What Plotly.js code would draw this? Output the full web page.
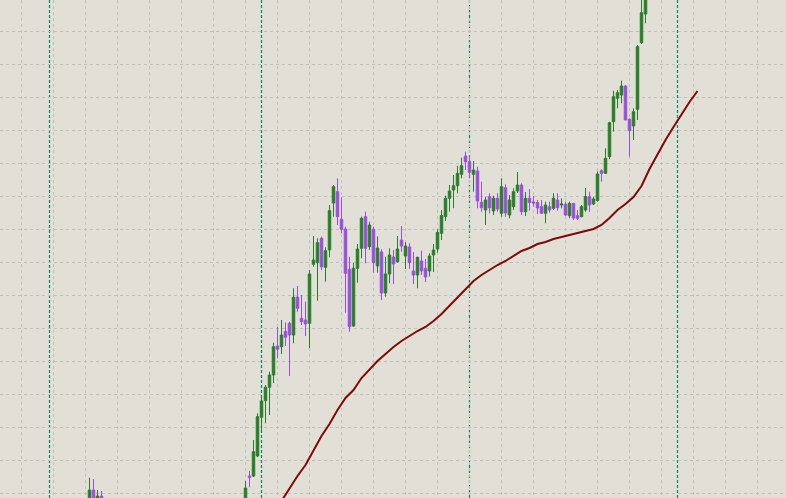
<!DOCTYPE html>
<html>
<head>
<meta charset="utf-8">
<script src="https://cdn.plot.ly/plotly-3.0.1.min.js"></script>
<style>
  html, body { margin: 0; padding: 0; background: #e1dfd6; }
  #chart { width: 786px; height: 498px; }
</style>
</head>
<body>
<div id="chart"></div>
<script>
// ---- data (bar index on x, price on y) ----
const barIndex = [22, 23, 24, 25,
  61, 62, 63, 64, 65, 66, 67, 68, 69, 70,
  71, 72, 73, 74, 75, 76, 77, 78, 79, 80,
  81, 82, 83, 84, 85, 86, 87, 88, 89, 90,
  91, 92, 93, 94, 95, 96, 97, 98, 99, 100,
  101, 102, 103, 104, 105, 106, 107, 108, 109, 110,
  111, 112, 113, 114, 115, 116, 117, 118, 119, 120,
  121, 122, 123, 124, 125, 126, 127, 128, 129, 130,
  131, 132, 133, 134, 135, 136, 137, 138, 139, 140,
  141, 142, 143, 144, 145, 146, 147, 148, 149, 150,
  151, 152, 153, 154, 155, 156, 157, 158, 159, 160,
  161];

const openPrice = [993, 1008, 993, 1002,
  998, 1022, 1022, 1042, 1080.7, 1097.3, 1110.7, 1123, 1152, 1151.3,
  1166.5, 1174.7, 1163, 1201, 1179.7, 1178, 1174.7, 1233.7, 1235.3, 1259.7,
  1230.7, 1248, 1295, 1306.3, 1278.7, 1269, 1228.7, 1172, 1229.7, 1249.7,
  1281.3, 1251.3, 1268.7, 1232, 1246, 1205, 1224, 1241, 1236.3, 1258,
  1242, 1251, 1227, 1223, 1237, 1229.7, 1227, 1243, 1249, 1264.7,
  1281.3, 1299.7, 1308, 1312.3, 1323.7, 1342, 1336.3, 1323.7, 1327, 1295.7,
  1288, 1301.3, 1287, 1299.7, 1284.7, 1310.3, 1283, 1291.3, 1307, 1313,
  1286.3, 1299.7, 1296, 1295.5, 1291.3, 1284.7, 1291.3, 1289.7, 1298, 1293,
  1293.7, 1282.3, 1294.5, 1282.3, 1281.3, 1288, 1301.3, 1294, 1297.5, 1327.3,
  1324.7, 1341.3, 1376.3, 1399.7, 1403, 1412, 1378.7, 1372, 1388.7, 1455.3,
  1484];

const highPrice = [1020.3, 1019, 1008, 1007,
  1017, 1027, 1058, 1084.7, 1101.3, 1113, 1126.3, 1155.3, 1171, 1178,
  1175.5, 1176.3, 1209.7, 1212, 1203, 1196.3, 1228, 1262, 1259.7, 1261.3,
  1250.7, 1293, 1313, 1319.7, 1300.7, 1271.3, 1241.3, 1235.3, 1254, 1281.3,
  1286.3, 1276.3, 1271.3, 1261.6, 1248.7, 1241.3, 1249.7, 1248, 1262, 1272,
  1256, 1255, 1246, 1241.3, 1247.3, 1239, 1244.7, 1254, 1268.7, 1288,
  1302.3, 1313, 1323, 1332.3, 1340.3, 1346.3, 1343, 1337, 1331.3, 1316.3,
  1301.3, 1304.7, 1302.3, 1304.7, 1319.7, 1313.7, 1303, 1309.7, 1326, 1314.7,
  1306, 1309, 1302, 1298, 1298, 1296.3, 1296.3, 1304.7, 1304.7, 1299.7,
  1296.3, 1296.3, 1295.3, 1288, 1293, 1310, 1306.3, 1301.3, 1326.5, 1328.7,
  1349.7, 1376.3, 1407.3, 1408, 1417.3, 1413, 1379.7, 1389.7, 1453, 1500,
  1508];

const lowPrice = [990, 993, 990, 992,
  995, 1010.7, 1021, 1041, 1068, 1074.7, 1083, 1115, 1139.7, 1144,
  1152, 1122, 1154.7, 1186.3, 1173, 1162, 1150, 1231.3, 1197.3, 1228,
  1216.3, 1240.7, 1281.3, 1273, 1264.7, 1185.3, 1166.3, 1171.3, 1215.3, 1239.7,
  1234.7, 1248, 1225.3, 1225.3, 1198, 1201.3, 1214.7, 1214, 1235.3, 1246.3,
  1229, 1229, 1214, 1209.7, 1223, 1216, 1221.5, 1226, 1245.3, 1258,
  1277, 1286.3, 1289.7, 1304.7, 1319.7, 1328, 1319.7, 1306.3, 1289.7, 1286.3,
  1273, 1284.7, 1283, 1286.3, 1281.3, 1281.3, 1279.7, 1288, 1305, 1283,
  1282, 1287.3, 1291.3, 1284, 1284, 1274.7, 1285.3, 1288, 1287.3, 1289.7,
  1282, 1279.7, 1278, 1278, 1280.7, 1286.3, 1286.3, 1293, 1296.3, 1316.3,
  1324, 1338.7, 1366.3, 1389.7, 1394.7, 1378, 1341.3, 1358, 1378, 1454,
  1474.7];

const closePrice = [1008, 998, 1002, 995,
  1010, 1020.7, 1046.3, 1081.3, 1097, 1110.7, 1123, 1151.3, 1148.7, 1163,
  1160.7, 1163, 1200.7, 1189.7, 1176.3, 1174, 1224, 1238, 1255.3, 1231.3,
  1247.3, 1287.3, 1311.3, 1281.3, 1268.7, 1224.7, 1171.3, 1229.7, 1249, 1279.7,
  1249.7, 1273, 1235.3, 1250, 1205, 1224, 1243, 1234, 1249, 1252,
  1252, 1235.3, 1223, 1240.7, 1227, 1221, 1242, 1248, 1265.5, 1282.5,
  1299.7, 1307, 1312.3, 1324.7, 1332.3, 1336.3, 1325.7, 1328, 1297, 1290.3,
  1298, 1290.3, 1299.7, 1289, 1311.3, 1285, 1298, 1306.3, 1313, 1286.3,
  1299.7, 1295.5, 1295, 1290, 1284.7, 1293, 1288, 1299.7, 1290.3, 1294,
  1283, 1294.7, 1280, 1279.7, 1291.3, 1301.5, 1293, 1299, 1324, 1324.7,
  1339.7, 1375.3, 1401.3, 1405.3, 1412, 1378, 1367.3, 1386.3, 1451.3, 1485.3,
  1503];

// shifted moving average (bar index, value)
const maIndex = [70, 72, 74, 76, 78, 80, 82, 84, 86, 88, 90, 92, 94, 96, 98, 100,
  102, 104, 106, 108, 110, 112, 114, 116, 118, 120, 122, 124, 126, 128, 130,
  132, 134, 136, 138, 140, 142, 144, 146, 148, 150, 152, 154, 156, 158, 160,
  162, 164, 166, 168, 170, 172, 174];
const maValue = [997, 1010, 1022, 1033, 1047, 1062, 1074, 1088, 1100, 1108, 1120, 1129,
  1137, 1144, 1151, 1157, 1162, 1167, 1171, 1177, 1184, 1192, 1201, 1209, 1217,
  1223, 1228, 1233, 1237, 1242, 1247, 1250, 1254, 1256, 1259, 1261, 1263, 1265,
  1267, 1269, 1273, 1280, 1288, 1294, 1301, 1312, 1329, 1344, 1358, 1371, 1384,
  1396, 1407];

// period separators (bar index where a new period starts)
const separators = [12, 65, 117, 169];

// ---- styles ----
const BG = '#e1dfd6';
const GRID = '#c0bfbb';
const SEP = '#008a66';
const UP = '#2b7d2b';
const DOWN = '#9a4fdc';
const MA = '#7d0a0a';

const traces = [
  {
    type: 'candlestick',
    x: barIndex, open: openPrice, high: highPrice, low: lowPrice, close: closePrice,
    increasing: { line: { color: UP, width: 1 }, fillcolor: UP },
    decreasing: { line: { color: DOWN, width: 1 }, fillcolor: DOWN },
    whiskerwidth: 0,
    hoverinfo: 'skip'
  },
  {
    type: 'scatter', mode: 'lines',
    x: maIndex, y: maValue,
    line: { color: MA, width: 2 },
    hoverinfo: 'skip'
  }
];

const layout = {
  width: 786, height: 498,
  margin: { l: 0, r: 0, t: 0, b: 0, pad: 0 },
  paper_bgcolor: BG, plot_bgcolor: BG,
  showlegend: false,
  boxgap: 0.1,
  xaxis: {
    range: [-0.375, 196.125], fixedrange: true,
    showticklabels: false, ticks: '', zeroline: false, showline: false,
    showgrid: true, gridcolor: GRID, gridwidth: 1, griddash: '3px,3px',
    tick0: 5, dtick: 8,
    rangeslider: { visible: false }
  },
  yaxis: {
    range: [1000, 1498], fixedrange: true,
    showticklabels: false, ticks: '', zeroline: false, showline: false,
    showgrid: true, gridcolor: GRID, gridwidth: 1, griddash: '3px,3px',
    tick0: 1004.7, dtick: 33
  },
  shapes: separators.map(s => ({
    type: 'line', xref: 'x', yref: 'paper', x0: s, x1: s, y0: 0, y1: 1,
    line: { color: SEP, width: 1.2, dash: '3px,2px' }, layer: 'below'
  }))
};

Plotly.newPlot('chart', traces, layout, { displayModeBar: false, staticPlot: true });
</script>
</body>
</html>
